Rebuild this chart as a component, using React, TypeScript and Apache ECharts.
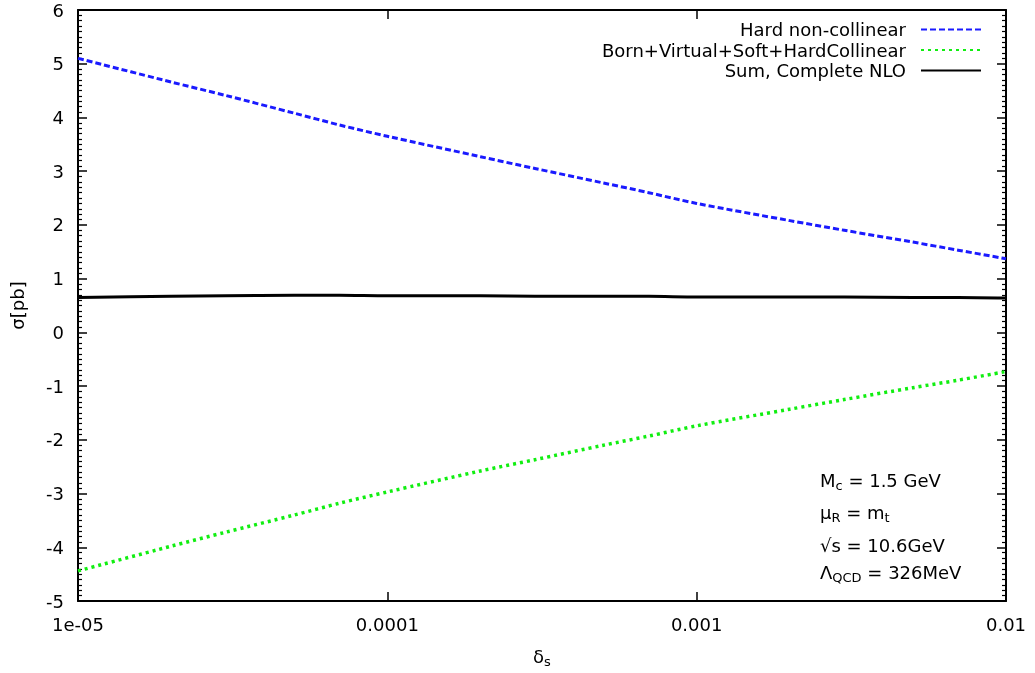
import React, { useEffect, useRef } from "react";
import * as echarts from "echarts";

const deltas = [1e-5, 2e-5, 3e-5, 5e-5, 7e-5, 1e-4, 2e-4, 3e-4, 5e-4, 7e-4, 1e-3, 2e-3, 3e-3, 5e-3, 7e-3, 1e-2];
const hardNonCollinear = [5.1, 4.66, 4.41, 4.08, 3.86, 3.65, 3.27, 3.05, 2.78, 2.6, 2.4, 2.08, 1.9, 1.68, 1.53, 1.37];
const bornVirtualSoft = [-4.44, -3.98, -3.72, -3.4, -3.18, -2.97, -2.58, -2.37, -2.1, -1.93, -1.74, -1.43, -1.25, -1.03, -0.89, -0.73];
const sumNLO = [0.65, 0.67, 0.68, 0.69, 0.69, 0.68, 0.68, 0.67, 0.67, 0.67, 0.66, 0.66, 0.66, 0.65, 0.65, 0.64];

const seriesNames = ["Hard non-collinear", "Born+Virtual+Soft+HardCollinear", "Sum, Complete NLO"];
const xTickExponents = [-5, -4, -3, -2];
const xTickLabels = ["1e-05", "0.0001", "0.001", "0.01"];
const yTicks = { min: -5, max: 6, interval: 1 };

const FONT = "DejaVu Sans";
const FS = 18;

export default function App() {
  const ref = useRef<HTMLDivElement>(null);
  useEffect(() => {
    const chart = echarts.init(ref.current!, null, { renderer: "svg" });
    const pairs = (ys: number[]) => deltas.map((d, i) => [d, ys[i]]);
    const fmtX = (v: number) => {
      const e = Math.round(Math.log10(v));
      const idx = xTickExponents.indexOf(e);
      return idx >= 0 ? xTickLabels[idx] : "";
    };
    const axisLine = () => ({ show: true, onZero: false, lineStyle: { color: "#000", width: 2 } });
    const tick = () => ({ show: true, inside: true, length: 9, lineStyle: { color: "#000", width: 1.5 } });
    const minor = () => ({ show: true, splitNumber: 10, length: 4, lineStyle: { color: "#000", width: 1.2 } });
    const sub = () => ({ fontFamily: FONT, fontSize: 13, color: "#000", verticalAlign: "bottom" as const, padding: [10, 0, 0, 0] });
    const main = () => ({ fontFamily: FONT, fontSize: FS, color: "#000" });
    chart.setOption({
      animation: false,
      grid: { left: 76, right: 29, top: 10, bottom: 70 },
      legend: {
        orient: "vertical",
        right: 48,
        top: 15,
        align: "right",
        itemWidth: 60,
        itemHeight: 14,
        itemGap: 1.5,
        itemStyle: { opacity: 0 },
        textStyle: { fontFamily: FONT, fontSize: FS, lineHeight: 19, color: "#000", padding: [0, 10, 0, 0] },
        data: seriesNames,
      },
      xAxis: [
        {
          type: "log",
          min: 1e-5,
          max: 1e-2,
          position: "bottom",
          axisLine: axisLine(),
          axisTick: tick(),
          splitLine: { show: false },
          axisLabel: { formatter: fmtX, fontFamily: FONT, fontSize: FS, color: "#000", margin: 14 },
          name: "{a|δ}{s|s}",
          nameLocation: "middle",
          nameGap: 44,
          nameTextStyle: { rich: { a: main(), s: sub() } },
        },
        {
          type: "log",
          min: 1e-5,
          max: 1e-2,
          position: "top",
          axisLine: axisLine(),
          axisTick: tick(),
          splitLine: { show: false },
          axisLabel: { show: false },
        },
      ],
      yAxis: [
        {
          type: "value",
          min: yTicks.min,
          max: yTicks.max,
          interval: yTicks.interval,
          position: "left",
          axisLine: axisLine(),
          axisTick: tick(),
          minorTick: minor(),
          splitLine: { show: false },
          axisLabel: { fontFamily: FONT, fontSize: FS, color: "#000", margin: 14 },
          name: "σ[pb]",
          nameLocation: "middle",
          nameGap: 52,
          nameRotate: 90,
          nameTextStyle: { fontFamily: FONT, fontSize: FS, color: "#000" },
        },
        {
          type: "value",
          min: yTicks.min,
          max: yTicks.max,
          interval: yTicks.interval,
          position: "right",
          axisLine: axisLine(),
          axisTick: tick(),
          minorTick: minor(),
          splitLine: { show: false },
          axisLabel: { show: false },
        },
      ],
      series: [
        {
          name: seriesNames[0],
          type: "line",
          data: pairs(hardNonCollinear),
          symbol: "none",
          smooth: 0.3,
          lineStyle: { color: "#1a1aff", width: 3, type: [6, 3], cap: "butt" },
          itemStyle: { color: "#1a1aff" },
        },
        {
          name: seriesNames[1],
          type: "line",
          data: pairs(bornVirtualSoft),
          symbol: "none",
          smooth: 0.3,
          lineStyle: { color: "#11ee11", width: 3.5, type: [3, 4], cap: "butt" },
          itemStyle: { color: "#11ee11" },
        },
        {
          name: seriesNames[2],
          type: "line",
          data: pairs(sumNLO),
          symbol: "none",
          smooth: 0.3,
          lineStyle: { color: "#000", width: 3 },
          itemStyle: { color: "#000" },
        },
      ],
      graphic: [
        { type: "text", left: 820, top: 471, style: { text: "{a|M}{s|c}{a| = 1.5 GeV}", rich: { a: main(), s: sub() } } },
        { type: "text", left: 820, top: 503, style: { text: "{a|μ}{s|R}{a| = m}{s|t}", rich: { a: main(), s: sub() } } },
        { type: "text", left: 820, top: 536, style: { text: "{a|√s = 10.6GeV}", rich: { a: main() } } },
        { type: "text", left: 820, top: 563, style: { text: "{a|Λ}{s|QCD}{a| = 326MeV}", rich: { a: main(), s: sub() } } },
      ],
    });
    return () => chart.dispose();
  }, []);
  return <div ref={ref} style={{ position: "fixed", left: 0, top: 0, width: 1035, height: 673 }} />;
}
